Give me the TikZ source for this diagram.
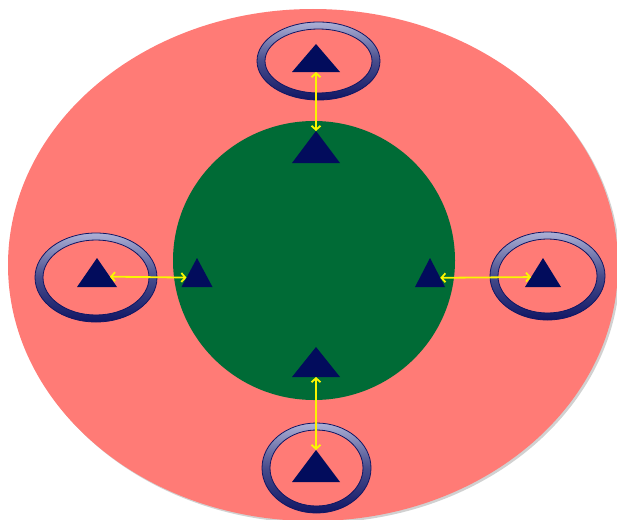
\documentclass[tikz,border=0pt]{standalone}
\usepackage{tikz}
\usetikzlibrary{arrows.meta, shapes.geometric}
\definecolor{rimsalmon}{RGB}{255,123,118}
\definecolor{coregreen}{RGB}{0,107,54}
\definecolor{nodenavy}{RGB}{2,12,92}
\definecolor{linkyellow}{RGB}{250,246,0}
\definecolor{ringlight}{RGB}{172,176,214}
\definecolor{ringdark}{RGB}{16,22,100}
% shaded ring round a named node: name, outer rx, outer ry
\newcommand{\ringat}[3]{%
  \shade[even odd rule, top color=ringlight, bottom color=ringdark,
         middle color=ringdark!65!ringlight,
         draw=ringdark, line width=0.8pt]
    (#1.center) ellipse ({#2pt} and {#3pt})
    (#1.center) ellipse ({#2pt-8pt} and {#3pt-7pt});}

\begin{document}
\begin{tikzpicture}[
  x=1pt, y=-1pt,
  tri/.style={isosceles triangle, isosceles triangle stretches,
              shape border rotate=90, fill=nodenavy, draw=none,
              inner sep=0pt, outer sep=0pt, anchor=apex},
  bigtri/.style={tri, minimum width=48pt, minimum height=31pt},
  sidetri/.style={tri, minimum height=29pt},
  link/.style={{Straight Barb[length=4pt,width=9pt]}-{Straight Barb[length=4pt,width=9pt]},
               line width=1.8pt, linkyellow},
  ringspot/.style={ellipse, inner sep=0pt, outer sep=0pt}
]
\useasboundingbox (0,0) rectangle (617,519);
\clip (0,0) rectangle (617,519);

% field and core
\fill[black!18] (315,267) ellipse (305pt and 256pt);
\fill[rimsalmon] (313,265) ellipse (305pt and 256pt);
\node[ellipse, fill=coregreen, minimum width=282pt, minimum height=279pt,
      inner sep=0pt] (core) at (314,260.5) {};

% outer rings
\node[ringspot, minimum width=123pt, minimum height=78pt] (ringN) at (318.5,61) {};
\node[ringspot, minimum width=122pt, minimum height=89pt] (ringW) at (96,277.5) {};
\node[ringspot, minimum width=115pt, minimum height=88pt] (ringE) at (547.5,276) {};
\node[ringspot, minimum width=109pt, minimum height=90pt] (ringS) at (316.5,468) {};
\ringat{ringN}{61.5}{39}
\ringat{ringW}{61}{44.5}
\ringat{ringE}{57.5}{44}
\ringat{ringS}{54.5}{45}

% triangles
\node[bigtri, minimum height=28pt] (outN) at (316,44) {};
\node[bigtri, minimum height=32pt] (inN) at (316,131) {};
\node[bigtri, minimum height=30pt] (inS) at (316,347) {};
\node[bigtri, minimum height=32pt] (outS) at (316,450) {};
\node[sidetri, minimum width=40pt] (outW) at (97,258) {};
\node[sidetri, minimum width=31pt] (inW) at (197,258) {};
\node[sidetri, minimum width=30pt] (inE) at (430,258) {};
\node[sidetri, minimum width=36pt] (outE) at (543,258) {};

% links
\draw[link] (outN) -- (inN);
\draw[link] (outW) -- (inW);
\draw[link] (inE) -- (outE);
\draw[link] (inS) -- (outS);
\end{tikzpicture}
\end{document}
